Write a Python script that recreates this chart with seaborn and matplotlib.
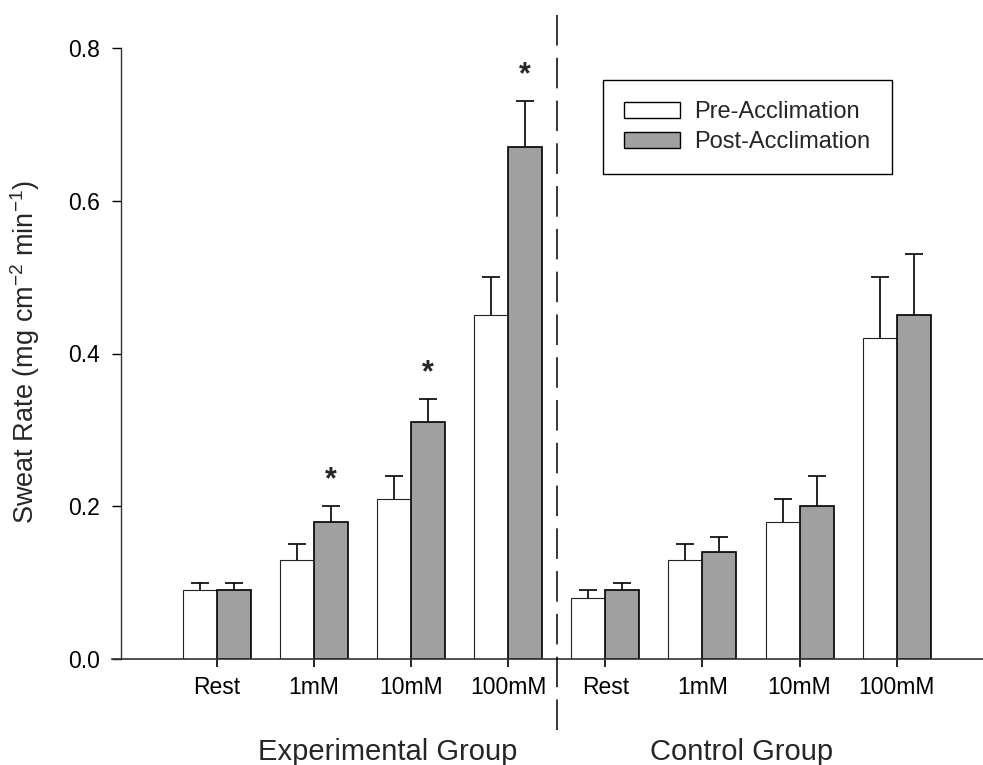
import numpy as np
import pandas as pd
import matplotlib
matplotlib.use("Agg")
import matplotlib.pyplot as plt
import seaborn as sns

# ---- data ----
categories = ["Exp Rest", "Exp 1mM", "Exp 10mM", "Exp 100mM",
              "Ctl Rest", "Ctl 1mM", "Ctl 10mM", "Ctl 100mM"]
tick_labels = ["Rest", "1mM", "10mM", "100mM", "Rest", "1mM", "10mM", "100mM"]
phases = ["Pre-Acclimation", "Post-Acclimation"]
pre_values = [0.09, 0.13, 0.21, 0.45, 0.08, 0.13, 0.18, 0.42]
post_values = [0.09, 0.18, 0.31, 0.67, 0.09, 0.14, 0.20, 0.45]
pre_err = [0.01, 0.02, 0.03, 0.05, 0.01, 0.02, 0.03, 0.08]
post_err = [0.01, 0.02, 0.03, 0.06, 0.01, 0.02, 0.04, 0.08]
post_significant = [False, True, True, True, False, False, False, False]
group_names = ["Experimental Group", "Control Group"]
group_label_x = [1.76, 5.40]
divider_x = 3.5
y_ticks = [0.0, 0.2, 0.4, 0.6, 0.8]

df = pd.DataFrame({
    "category": categories * 2,
    "phase": [phases[0]] * len(categories) + [phases[1]] * len(categories),
    "value": pre_values + post_values,
})
errs = {phases[0]: pre_err, phases[1]: post_err}

sns.set_style("ticks")
plt.rcParams["font.family"] = ["Liberation Sans", "DejaVu Sans"]
plt.rcParams["mathtext.default"] = "regular"
plt.rcParams["axes.unicode_minus"] = False

W, H = 983, 765
fig = plt.figure(figsize=(W / 100, H / 100), dpi=100)
ax_left, ax_bottom, ax_top = 121, 659, 48
ax = fig.add_axes([ax_left / W, (H - ax_bottom) / H, (W - ax_left) / W,
                   (ax_bottom - ax_top) / H])

post_color = "#a0a0a0"
sns.barplot(data=df, x="category", y="value", hue="phase", order=categories,
            hue_order=phases, palette={phases[0]: "white", phases[1]: post_color},
            width=0.7, dodge=True, errorbar=None, saturation=1,
            edgecolor="black", linewidth=1.0, ax=ax)

# style bars + error bars
for cont, ph in zip(ax.containers, phases):
    xs, tops = [], []
    for p in cont.patches:
        if ph == phases[0]:
            p.set_edgecolor("#222222")
            p.set_linewidth(0.8)
        else:
            p.set_edgecolor("black")
            p.set_linewidth(1.2)
        xs.append(p.get_x() + p.get_width() / 2)
        tops.append(p.get_height())
    e = np.array(errs[ph])
    res = ax.errorbar(xs, tops, yerr=[np.zeros_like(e), e], fmt="none",
                      ecolor="black", elinewidth=1.2, capsize=6.8, capthick=1.2,
                      zorder=1)
    res[1][0].set_visible(False)  # hide lower caps
    if ph == phases[1]:
        for x, t, er, sig in zip(xs, tops, e, post_significant):
            if sig:
                ax.text(x, t + er + 0.024, "*", ha="center", va="baseline",
                        fontsize=22, fontweight="bold")

ax.set_ylim(0, 0.8)
ax.set_xlim(-0.99, 7.89)
ax.set_yticks(y_ticks)
ax.set_yticklabels([f"{v:.1f}" for v in y_ticks])
ax.set_xticks(range(len(categories)))
ax.set_xticklabels(tick_labels)
ax.set_xlabel("")
ax.tick_params(axis="y", direction="out", length=6.5, width=1.0, pad=8.5,
               labelsize=16.5, colors="black")
ax.tick_params(axis="x", direction="out", length=6, width=1.2, pad=6,
               labelsize=16.5, colors="black")
for s in ["top", "right"]:
    ax.spines[s].set_visible(False)
ax.spines["left"].set_linewidth(1.0)
ax.spines["left"].set_color("#333333")
ax.spines["bottom"].set_linewidth(1.2)
ax.spines["bottom"].set_color("#333333")
ax.spines["bottom"].set_bounds(-1.08, 7.89)

ax.set_ylabel("Sweat Rate (mg cm$^{-2}$ min$^{-1}$)", fontsize=19.5)
ax.yaxis.set_label_coords(-0.092, 0.503)

# dashed divider
ax.plot([divider_x, divider_x], [-0.116, 1.0556], color="black", lw=1.1,
        linestyle=(0, (20, 8)), transform=ax.get_xaxis_transform(),
        clip_on=False, zorder=5)

# group labels
for gx, name in zip(group_label_x, group_names):
    ax.text(gx, -0.165, name, ha="center", va="baseline", fontsize=21,
            transform=ax.get_xaxis_transform())

# legend
handles, labels = ax.get_legend_handles_labels()
for h in handles:
    h.set_edgecolor("black")
    h.set_linewidth(1.0)
leg = ax.legend(handles, labels, loc="upper left",
                bbox_to_anchor=(603 / W, 1 - 80 / H), bbox_transform=fig.transFigure,
                borderaxespad=0, fontsize=17, frameon=True, fancybox=False,
                edgecolor="black", framealpha=1, handlelength=2.37,
                handleheight=0.68, handletextpad=0.6, labelspacing=0.33,
                borderpad=0.9)
leg.get_frame().set_linewidth(1.0)

fig.savefig("out.png", dpi=100)
